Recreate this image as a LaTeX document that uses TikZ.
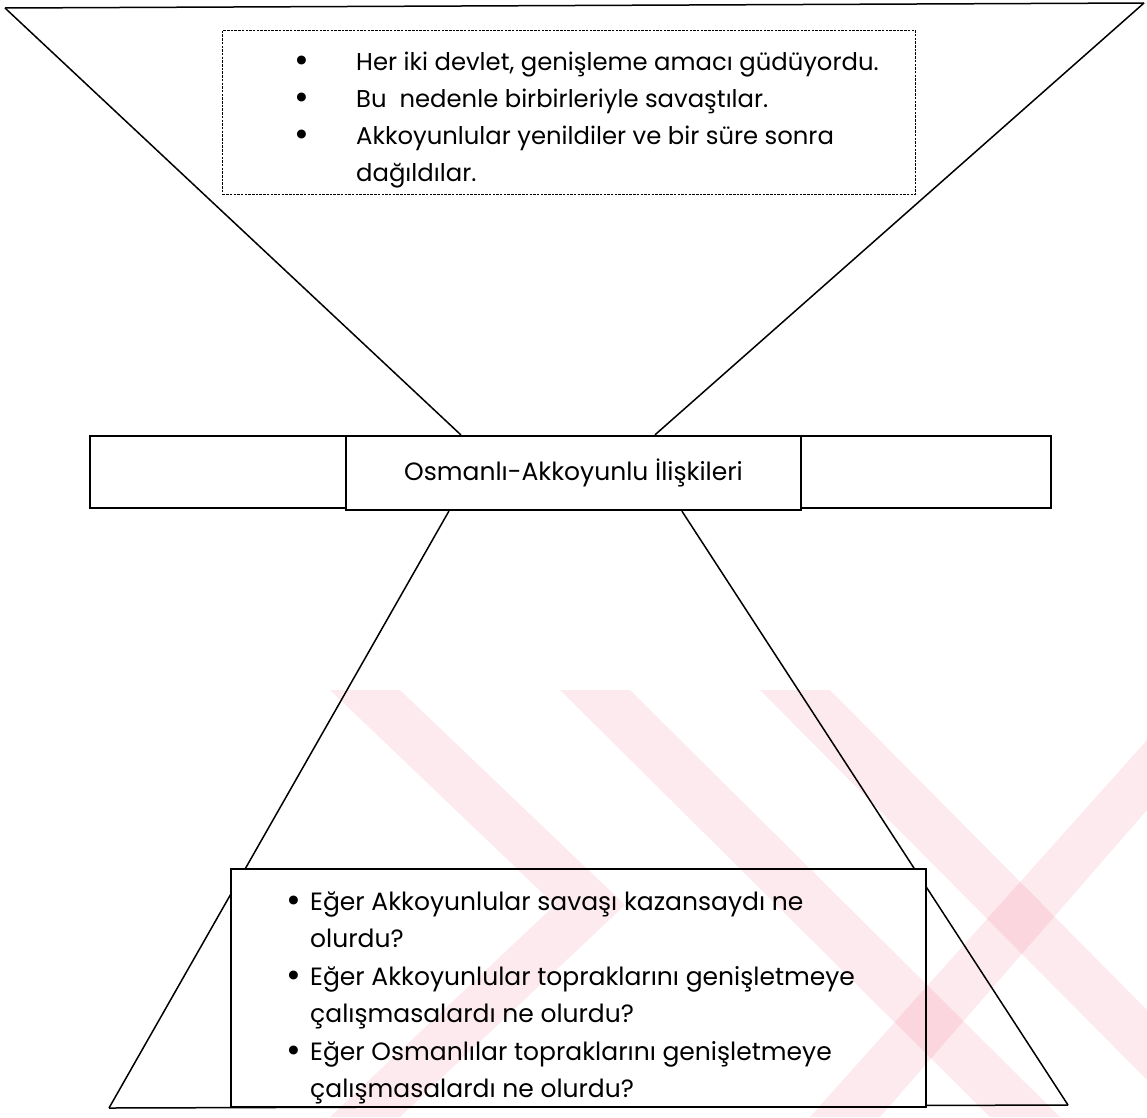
\documentclass[tikz,border=0pt]{standalone}
\usepackage{fontspec}
\setmainfont{Poppins}
\usetikzlibrary{positioning,backgrounds}
\definecolor{wmpink}{RGB}{253,234,238}
\newcommand{\listdot}{\raisebox{-2.5pt}{\fontsize{36}{36}\selectfont\textbullet}}

\begin{document}
\begin{tikzpicture}[
    x=1pt, y=-1pt,
    every node/.style={font=\fontsize{25}{37}\selectfont},
    plainbox/.style={draw, line width=2.2pt, fill=white, rectangle, inner sep=0, anchor=north west},
    dotbox/.style={draw, line width=0.9pt, dash pattern=on 2.5pt off 1.2pt, rectangle, inner sep=0, anchor=north west},
    bulletlist/.style={align=left, inner sep=0, anchor=base west},
    funnel/.style={draw, line width=1.5pt},
    stamp/.style={fill=wmpink, draw=none, blend mode=multiply}]

\path[use as bounding box] (0,0) rectangle (1147,1117);

\coordinate (TL) at (5,8);
\coordinate (TR) at (1144,3);
\coordinate (BL) at (109,1108);
\coordinate (BR) at (1068,1105);

\node (TOPBOX) [dotbox, minimum width=693, minimum height=164] at (222,30) {};
\node (TOPLIST) [bulletlist, font=\fontsize{24.3}{37}\selectfont] at (294,181) {
 \makebox[62pt][l]{\listdot}Her iki devlet, genişleme amacı güdüyordu.\\
 \makebox[62pt][l]{\listdot}Bu\ \ nedenle birbirleriyle savaştılar.\\
 \makebox[62pt][l]{\listdot}Akkoyunlular yenildiler ve bir süre sonra\\
 \hspace*{62pt}dağıldılar.};

\node (WIDEBAR) [plainbox, minimum width=961, minimum height=72] at (89,435) {};
\node (TITLE) [plainbox, anchor=center, minimum width=455, minimum height=74] at (573.5,473) {Osmanlı-Akkoyunlu İlişkileri};

\node (QBOX) [plainbox, minimum width=695, minimum height=238] at (230,868) {};
\node (QLIST) [bulletlist, font=\fontsize{25}{37.5}\selectfont] at (286,1097.5) {
 \makebox[24pt][l]{\listdot}Eğer Akkoyunlular savaşı kazansaydı ne\\
 \hspace*{24pt}olurdu?\\
 \makebox[24pt][l]{\listdot}Eğer Akkoyunlular topraklarını genişletmeye\\
 \hspace*{24pt}çalışmasalardı ne olurdu?\\
 \makebox[24pt][l]{\listdot}Eğer Osmanlılar topraklarını genişletmeye\\
 \hspace*{24pt}çalışmasalardı ne olurdu?};

\begin{scope}[on background layer]
\path[funnel] (TL) -- (TR);
\path[funnel] (TL) -- ([xshift=116pt]TITLE.north west);
\path[funnel] (TR) -- ([xshift=310pt]TITLE.north west);
\path[funnel] ([xshift=104pt]TITLE.south west) -- (BL);
\path[funnel] ([xshift=337pt]TITLE.south west) -- (BR);
\path[funnel] (BL) -- (BR);
\end{scope}

\path[stamp] (330,690) -- (400,690) -- (625,905) -- (400,1117) -- (330,1117) -- (555,905) -- cycle;
\path[stamp] (560,690) -- (630,690) -- (1060,1117) -- (990,1117) -- cycle;
\path[stamp] (760,690) -- (830,690) -- (1147,1010) -- (1147,1080) -- cycle;
\path[stamp] (1147,740) -- (1147,810) -- (880,1117) -- (810,1117) -- cycle;

\end{tikzpicture}
\end{document}
